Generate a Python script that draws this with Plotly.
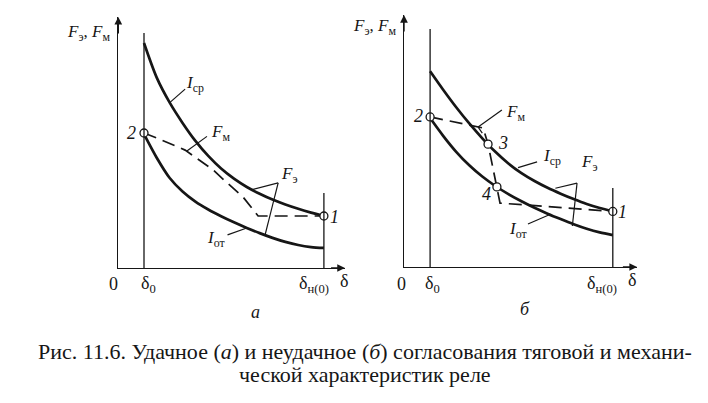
import plotly.graph_objects as go

# ---------------- data (chart units: delta, force) ----------------
delta = [1, 1.5, 2, 2.5, 3, 3.5, 4, 4.5, 5, 5.5, 6, 6.5, 7, 7.5, 8]

# panel a
a_icp = [10.0, 8.45, 7.35, 6.45, 5.65, 4.98, 4.42, 3.97, 3.6, 3.3, 3.04, 2.82, 2.63, 2.46, 2.31]
a_iot = [5.95, 4.89, 4.0, 3.4, 2.95, 2.6, 2.3, 2.03, 1.78, 1.55, 1.34, 1.16, 1.02, 0.93, 0.89]
a_fm_x = [1, 1.5, 2.6, 3.26, 3.69, 4.15, 4.85, 5.44, 8]
a_fm_y = [6.0, 5.78, 5.24, 4.71, 4.36, 3.87, 3.16, 2.31, 2.31]
a_pts_x = [8, 1]
a_pts_y = [2.31, 6.0]

# panel b
b_icp = [8.7, 7.88, 7.1, 6.38, 5.72, 5.12, 4.6, 4.17, 3.82, 3.52, 3.26, 3.02, 2.8, 2.62, 2.47]
b_iot = [6.62, 5.83, 5.12, 4.52, 4.02, 3.6, 3.24, 2.92, 2.63, 2.37, 2.13, 1.9, 1.7, 1.54, 1.42]
b_fm_x = [1, 3.03, 3.22, 3.56, 3.68, 8]
b_fm_y = [6.67, 6.18, 5.46, 3.56, 2.84, 2.47]
b_pts_x = [8, 1, 3.22, 3.56]
b_pts_y = [2.47, 6.67, 5.46, 3.56]

delta0 = 1
delta_n = 8

# ---------------- figure ----------------
OFF = 8                      # default page margin of the html body
W, H = 708 - OFF, 403 - OFF  # figure size so that it fills the window
INK = "#161616"
FONT = "Liberation Serif"

fig = go.Figure()


def P(sx, sy):
    """screen pixel -> paper coords"""
    return (sx - OFF) / W, 1 - (sy - OFF) / H


# axes geometry (screen pixel mapping)
ax_a = dict(x0=118.3, sx=25.7, y0=268, sy=22.5, xmax=8.82, ymax=11.16)
ax_b = dict(x0=404.0, sx=26.1, y0=267, sy=22.5, xmax=8.93, ymax=11.2)

for i, g in enumerate([ax_a, ax_b], start=1):
    xs = "" if i == 1 else str(i)
    xa0, ya0 = P(g["x0"], g["y0"])
    xa1, ya1 = P(g["x0"] + g["sx"] * g["xmax"], g["y0"] - g["sy"] * g["ymax"])
    fig.update_layout(**{
        "xaxis" + xs: dict(domain=[xa0, xa1], range=[0, g["xmax"]], showgrid=False, zeroline=False,
                           showticklabels=False, ticks="", showline=True, linecolor=INK, linewidth=1.4,
                           anchor="y" + xs, fixedrange=True),
        "yaxis" + xs: dict(domain=[ya0, ya1], range=[0, g["ymax"]], showgrid=False, zeroline=False,
                           showticklabels=False, ticks="", showline=True, linecolor=INK, linewidth=1.4,
                           anchor="x" + xs, fixedrange=True),
    })

shapes = []
annotations = []


def vline(xref, yref, x, y1):
    shapes.append(dict(type="line", xref=xref, yref=yref, x0=x, x1=x, y0=0, y1=y1,
                       line=dict(color=INK, width=1.3)))


def leader(xref, yref, x0, y0, x1, y1):
    shapes.append(dict(type="line", xref=xref, yref=yref, x0=x0, x1=x1, y0=y0, y1=y1,
                       line=dict(color=INK, width=1.2)))


def arrow(xref, yref, x, y, ax, ay):
    annotations.append(dict(xref=xref, yref=yref, axref=xref, ayref=yref, x=x, y=y, ax=ax, ay=ay,
                            text="", showarrow=True, arrowhead=2, arrowsize=1.1, arrowwidth=1.4,
                            arrowcolor=INK))


def label(sx, sy, text, size=17):
    x, y = P(sx, sy)
    annotations.append(dict(xref="paper", yref="paper", x=x, y=y, text=text, showarrow=False,
                            xanchor="center", yanchor="middle",
                            font=dict(family=FONT, size=size, color=INK)))


def curves(xa, ya, upper, lower, fm_x, fm_y, px, py):
    for yv in (upper, lower):
        fig.add_trace(go.Scatter(x=delta, y=yv, mode="lines",
                                 line=dict(color=INK, width=2.7, shape="spline", smoothing=0.8),
                                 xaxis=xa, yaxis=ya, showlegend=False, hoverinfo="skip", cliponaxis=False))
    fig.add_trace(go.Scatter(x=fm_x, y=fm_y, mode="lines",
                             line=dict(color=INK, width=1.7, dash="13px,7px"),
                             xaxis=xa, yaxis=ya, showlegend=False, hoverinfo="skip", cliponaxis=False))
    fig.add_trace(go.Scatter(x=px, y=py, mode="markers",
                             marker=dict(symbol="circle", size=8, color="white",
                                         line=dict(color=INK, width=1.3)),
                             xaxis=xa, yaxis=ya, showlegend=False, hoverinfo="skip", cliponaxis=False))


curves("x", "y", a_icp, a_iot, a_fm_x, a_fm_y, a_pts_x, a_pts_y)
curves("x2", "y2", b_icp, b_iot, b_fm_x, b_fm_y, b_pts_x, b_pts_y)

# --- vertical delta lines
vline("x", "y", delta0, 10.44)
vline("x", "y", delta_n, 3.33)
vline("x2", "y2", delta0, 10.58)
vline("x2", "y2", delta_n, 3.51)

# --- axis arrowheads
arrow("x", "y", ax_a["xmax"], 0, ax_a["xmax"] - 0.6, 0)
arrow("x", "y", 0, ax_a["ymax"], 0, ax_a["ymax"] - 0.8)
arrow("x2", "y2", ax_b["xmax"], 0, ax_b["xmax"] - 0.6, 0)
arrow("x2", "y2", 0, ax_b["ymax"], 0, ax_b["ymax"] - 0.8)

# --- leaders panel a
leader("x", "y", 2.0, 7.35, 2.6, 7.95)     # Icp
leader("x", "y", 2.67, 5.2, 3.45, 5.85)    # Fm
leader("x", "y", 6.22, 3.78, 5.2, 3.48)    # Fe -> upper
leader("x", "y", 6.22, 3.78, 5.71, 1.46)   # Fe -> lower
leader("x", "y", 4.25, 1.47, 5.0, 1.78)    # Iot

# --- leaders panel b
leader("x2", "y2", 2.84, 6.22, 3.75, 6.98)  # Fm
leader("x2", "y2", 2.84, 6.22, 3.0, 5.95)   # Fm hook
leader("x2", "y2", 4.37, 4.42, 5.1, 4.67)   # Icp
leader("x2", "y2", 6.63, 3.73, 5.8, 3.5)    # Fe -> upper
leader("x2", "y2", 6.63, 3.73, 6.45, 1.82)  # Fe -> lower
leader("x2", "y2", 4.75, 1.91, 5.59, 2.33)  # Iot

FE = "<i>F</i><sub>э</sub>"
FM = "<i>F</i><sub>м</sub>"
ICP = "<i>I</i><sub>ср</sub>"
IOT = "<i>I</i><sub>от</sub>"
D0 = "δ<sub>0</sub>"
DN = "δ<sub>н(0)</sub>"

# --- text panel a
label(88, 33, FE + ", " + FM)
label(195, 84, ICP)
label(220, 133, FM)
label(289, 175, FE)
label(216, 239, IOT)
label(131, 133, "<i>2</i>", 18)
label(334, 217, "<i>1</i>", 18)
label(113, 284, "0", 18)
label(148, 284, D0, 18)
label(314, 284, DN, 18)
label(344, 281, "δ", 18)
label(255, 312, "<i>а</i>", 18)

# --- text panel b
label(374, 27, FE + ", " + FM)
label(515, 113, FM)
label(503, 143, "<i>3</i>", 18)
label(486, 194, "<i>4</i>", 18)
label(552, 157, ICP)
label(589, 163, FE)
label(518, 230, IOT)
label(622, 212, "<i>1</i>", 18)
label(418, 116, "<i>2</i>", 18)
label(401, 284, "0", 18)
label(433, 284, D0, 18)
label(602, 284, DN, 18)
label(632, 280, "δ", 18)
label(525, 309, "<i>б</i>", 18)

# --- caption
label(365, 351, "Рис. 11.6. Удачное (<i>а</i>) и неудачное (<i>б</i>) согласования тяговой и механи-", 22)
label(365, 374, "ческой характеристик реле", 22)

fig.update_layout(width=W, height=H, margin=dict(l=0, r=0, t=0, b=0),
                  paper_bgcolor="white", plot_bgcolor="rgba(0,0,0,0)",
                  shapes=shapes, annotations=annotations, showlegend=False)

fig.write_html("out.html")
